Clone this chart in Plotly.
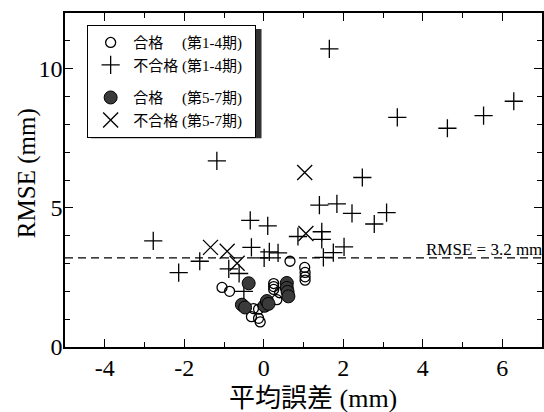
import plotly.graph_objects as go

# ---- data ----
pass14_x = [-1.05, -0.86, -0.31, -0.13, -0.09, -0.26, -0.13, 0.25, 0.25, 0.25, 0.33, 0.40, 0.66, 1.03, 1.04, 1.04, 1.04]
pass14_y = [2.14, 2.00, 1.09, 1.03, 0.90, 1.38, 1.36, 2.28, 2.17, 2.07, 1.70, 1.95, 3.08, 2.86, 2.68, 2.52, 2.40]

fail14_x = [-2.78, -2.14, -1.61, -1.18, -0.88, -0.62, -0.34, -0.31, 0.10, 0.01, 0.14, 0.36, -0.50, 0.86,
            1.40, 1.84, 2.22, 3.09, 2.78, 1.46, 1.46, 2.02, 1.75, 1.50, 1.65, 2.48, 3.36, 4.62, 5.53, 6.29]
fail14_y = [3.81, 2.67, 3.08, 6.69, 2.81, 2.64, 4.55, 3.58, 4.35, 3.20, 3.42, 3.38, 2.00, 3.97,
            5.10, 5.14, 4.80, 4.83, 4.42, 4.14, 3.87, 3.60, 3.39, 3.22, 10.71, 6.09, 8.25, 7.86, 8.31, 8.83]

pass57_x = [-0.38, -0.55, -0.47, 0.02, 0.08, 0.12, 0.58, 0.58, 0.60, 0.62]
pass57_y = [2.29, 1.52, 1.42, 1.48, 1.65, 1.55, 2.30, 2.12, 1.98, 1.82]

fail57_x = [-1.34, -0.92, -0.67, 1.06, 1.03]
fail57_y = [3.58, 3.44, 3.01, 4.08, 6.27]

threshold = 3.2
threshold_label = "RMSE = 3.2 mm"

x_tickvals = [-4, -2, 0, 2, 4, 6]
x_ticktext = ["-4", "-2", "0", "2", "4", "6"]
x_minor = [-5, -3, -1, 1, 3, 5, 7]
y_tickvals = [0, 5, 10]
y_ticktext = ["0", "5", "10"]
y_minor = [1, 2, 3, 4, 6, 7, 8, 9, 11]

names = ["合格\u3000 (第1-4期)\u2002", "不合格 (第1-4期)\u2002", "合格\u3000 (第5-7期)\u2002", "不合格 (第5-7期)\u2002"]
x_title = "平均誤差 (mm)"
y_title = "RMSE (mm)"

FONT = "Liberation Serif, Noto Sans CJK JP, serif"

fig = go.Figure()
fig.add_trace(go.Scatter(x=pass14_x, y=pass14_y, mode="markers", name=names[0], legendgroup="a",
                         marker=dict(symbol="circle-open", size=10, color="black", line=dict(width=1.3))))
fig.add_trace(go.Scatter(x=fail14_x, y=fail14_y, mode="markers", name=names[1], legendgroup="a",
                         marker=dict(symbol="cross-thin", size=13, color="black", line=dict(width=1.3, color="black"))))
fig.add_trace(go.Scatter(x=pass57_x, y=pass57_y, mode="markers", name=names[2], legendgroup="b",
                         marker=dict(symbol="circle", size=13, color="#3a3a3a", line=dict(width=1, color="black"))))
fig.add_trace(go.Scatter(x=fail57_x, y=fail57_y, mode="markers", name=names[3], legendgroup="b",
                         marker=dict(symbol="x-thin", size=15, color="black", line=dict(width=1.3, color="black"))))

fig.add_shape(type="line", xref="paper", x0=0, x1=1, yref="y", y0=threshold, y1=threshold,
              line=dict(color="black", width=1.2, dash="8px,5px"), layer="below")
fig.add_annotation(x=1, xref="paper", y=threshold, yref="y", text=threshold_label, showarrow=False,
                   xanchor="right", yanchor="bottom", yshift=-3, xshift=2,
                   font=dict(family=FONT, size=17, color="black"))

# axis titles
fig.add_annotation(x=0.52, xref="paper", y=-0.153, yref="paper", text=x_title, showarrow=False,
                   xanchor="center", yanchor="middle", font=dict(family=FONT, size=26, color="black"))
fig.add_annotation(x=-0.080, xref="paper", y=0.52, yref="paper", text=y_title, showarrow=False,
                   textangle=-90, xanchor="center", yanchor="middle", font=dict(family=FONT, size=25, color="black"))

# legend drop shadow
fig.add_shape(type="rect", xref="paper", yref="paper", x0=0.0545, x1=0.412, y0=0.625, y1=0.952,
              fillcolor="#333333", line=dict(width=0), layer="above")

axis_common = dict(showline=True, linecolor="black", linewidth=1.5, mirror="ticks",
                   ticks="inside", ticklen=8, tickwidth=1.3, tickcolor="black",
                   showgrid=False, zeroline=False, automargin=False,
                   tickfont=dict(family=FONT, size=24, color="black"))

fig.update_xaxes(range=[-5, 7], tickmode="array", tickvals=x_tickvals, ticktext=x_ticktext,
                 minor=dict(tickmode="array", tickvals=x_minor, ticks="inside", ticklen=5, tickwidth=1.2, tickcolor="black"),
                 ticklabelstandoff=-2,
                 **axis_common)
fig.update_yaxes(range=[0, 12], tickmode="array", tickvals=y_tickvals, ticktext=y_ticktext,
                 minor=dict(tickmode="array", tickvals=y_minor, ticks="inside", ticklen=5, tickwidth=1.2, tickcolor="black"),
                 ticklabelstandoff=-4,
                 **axis_common)

fig.update_layout(
    width=544, height=412,
    margin=dict(l=65, r=2, t=13, b=65),
    plot_bgcolor="white", paper_bgcolor="white",
    font=dict(family=FONT, color="black"),
    legend=dict(x=0.046, y=0.964, xanchor="left", yanchor="top", bgcolor="white",
                bordercolor="black", borderwidth=1.2, font=dict(family=FONT, size=15, color="black"),
                tracegroupgap=10, traceorder="grouped", itemwidth=35),
    showlegend=True,
)

fig.write_html("out.html", config={"displayModeBar": False},
               post_script="document.body.style.margin='0';document.body.style.overflow='hidden';")
